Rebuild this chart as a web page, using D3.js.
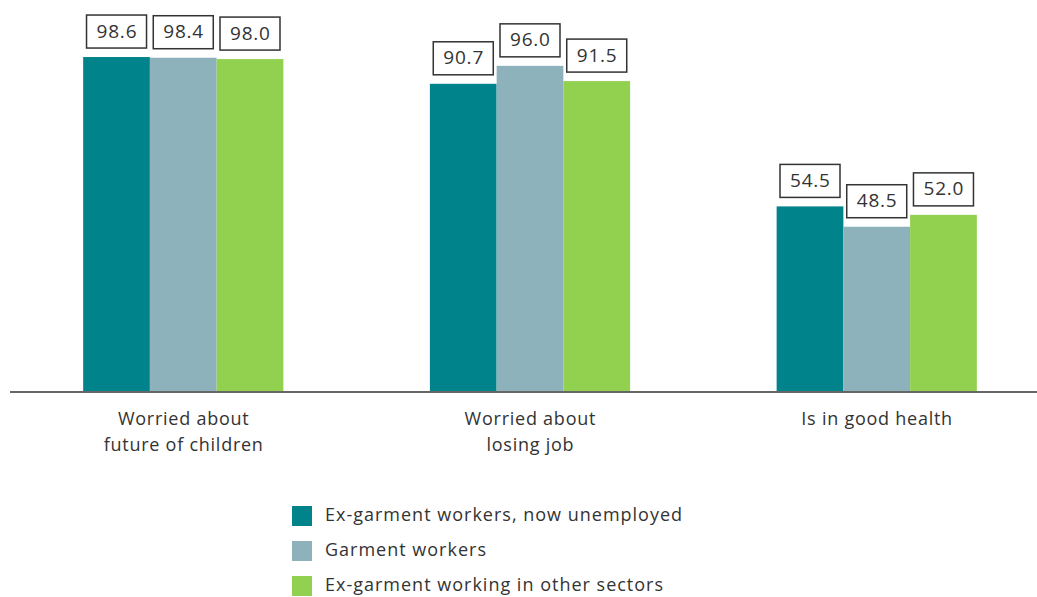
<!DOCTYPE html>
<html><head><meta charset="utf-8">
<script src="https://cdn.jsdelivr.net/npm/d3@7"></script>
<style>body{margin:0;background:#fff}svg{display:block}text{font-family:"Open Sans",Lato,sans-serif;fill:#333}</style>
</head><body><svg id="c" width="1037" height="597"></svg>
<script>
const categories = [["Worried about","future of children"],["Worried about","losing job"],["Is in good health"]];
const seriesNames = ["Ex-garment workers, now unemployed","Garment workers","Ex-garment working in other sectors"];
const unemployed = [98.6, 90.7, 54.5];
const garment = [98.4, 96.0, 48.5];
const otherSectors = [98.0, 91.5, 52.0];
const colors = ["#00838a", "#8db2bb", "#92d050"];

const series = [unemployed, garment, otherSectors];
const svg = d3.select("#c");
const x0 = d3.scaleBand().domain(d3.range(categories.length)).range([10, 1050]).paddingInner(0.4226).paddingOuter(0.211);
const x1 = d3.scaleBand().domain(d3.range(series.length)).range([0, x0.bandwidth()]);
const y = d3.scaleLinear().domain([0, 100]).range([391, 52.3]);

const g = svg.append("g");
series.forEach((vals, si) => {
  vals.forEach((v, ci) => {
    const bx = x0(ci) + x1(si);
    g.append("rect").attr("x", bx).attr("y", y(v)).attr("width", x1.bandwidth()).attr("height", y(0) - y(v)).attr("fill", colors[si]);
    const bw = 60, bh = 33;
    const cx = bx + x1.bandwidth() / 2;
    const top = y(v) - 9 - bh;
    g.append("rect").attr("x", cx - bw / 2).attr("y", top).attr("width", bw).attr("height", bh)
      .attr("fill", "#fff").attr("stroke", "#333").attr("stroke-width", 1.5);
    g.append("text").attr("x", cx + 0.4).attr("y", top + bh / 2 + 1).attr("text-anchor", "middle")
      .attr("dominant-baseline", "middle").style("font-size", "19px").style("letter-spacing", "0.8px").text(v.toFixed(1));
  });
});

svg.append("line").attr("x1", 10).attr("x2", 1037).attr("y1", y(0) + 1).attr("y2", y(0) + 1).attr("stroke", "#666").attr("stroke-width", 2);

categories.forEach((lines, ci) => {
  const cx = x0(ci) + x0.bandwidth() / 2;
  lines.forEach((l, li) => {
    svg.append("text").attr("x", cx + 0.4).attr("y", 425 + li * 26).attr("text-anchor", "middle")
      .style("font-size", "18px").style("letter-spacing", "0.75px").text(l);
  });
});

const leg = svg.append("g");
seriesNames.forEach((n, i) => {
  const yy = 506 + i * 35;
  leg.append("rect").attr("x", 292).attr("y", yy).attr("width", 20).attr("height", 20).attr("fill", colors[i]);
  leg.append("text").attr("x", 325).attr("y", yy + 10).attr("dominant-baseline", "middle")
    .style("font-size", "18px").style("letter-spacing", "1px").text(n);
});
</script></body></html>
